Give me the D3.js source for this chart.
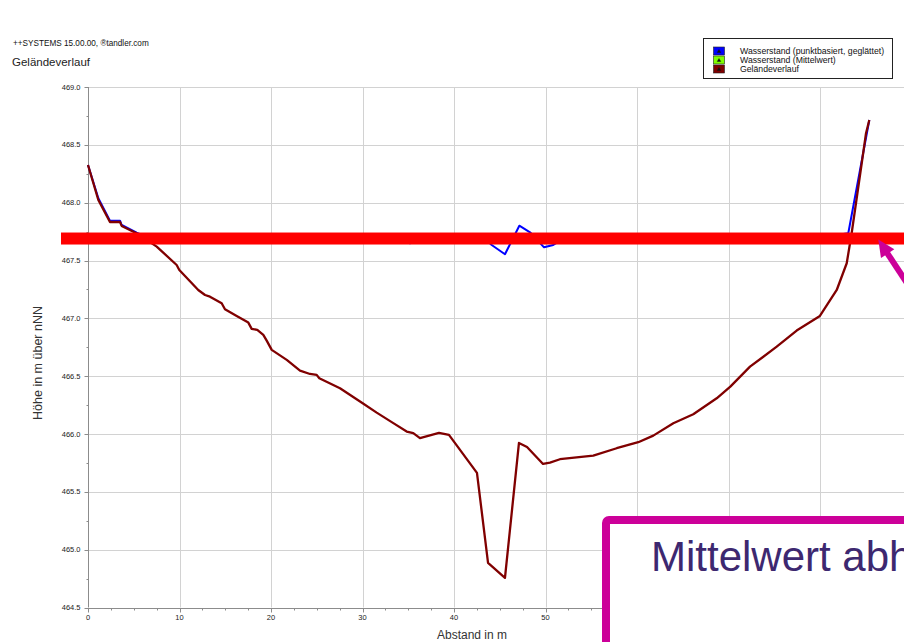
<!DOCTYPE html>
<html>
<head>
<meta charset="utf-8">
<script src="https://cdn.jsdelivr.net/npm/d3@7"></script>
<style>
  html, body { margin: 0; padding: 0; background: #fff; overflow: hidden; }
  text { font-family: "Liberation Sans", Arial, sans-serif; }
</style>
</head>
<body>
<svg id="chart" width="904" height="642"></svg>
<script>
// Geländeverlauf (terrain profile): distance in m / height in m über nNN
const terrainX = [0, 1.13, 2.40, 3.50, 3.68, 5.46, 7.51, 9.69, 9.98, 12.05, 12.79, 13.33, 14.61, 14.97,
  16.25, 17.52, 17.89, 18.50, 19.16, 19.53, 20.08, 21.72, 23.17, 24.26, 24.99, 25.28, 27.54, 30.02,
  31.55, 33.37, 34.83, 35.55, 36.28, 38.36, 39.45, 42.51, 43.72, 45.57, 47.10, 47.98, 49.73, 50.49,
  51.58, 55.22, 57.78, 60.14, 61.78, 63.97, 66.15, 68.71, 70.20, 72.35, 75.27, 77.45, 79.99, 81.83,
  82.92, 83.46, 85.03, 85.39];
const terrainY = [468.326, 468.023, 467.833, 467.833, 467.799, 467.729, 467.620, 467.461, 467.418,
  467.245, 467.202, 467.187, 467.130, 467.079, 467.021, 466.963, 466.909, 466.900, 466.857, 466.807,
  466.727, 466.641, 466.548, 466.519, 466.511, 466.482, 466.396, 466.266, 466.185, 466.094, 466.021,
  466.007, 465.964, 466.009, 465.992, 465.664, 464.886, 464.756, 465.923, 465.888, 465.741, 465.753,
  465.782, 465.813, 465.877, 465.929, 465.986, 466.093, 466.171, 466.309, 466.410, 466.582, 466.755,
  466.894, 467.021, 467.245, 467.476, 467.736, 468.600, 468.715];

// Wasserstand (punktbasiert, geglättet)
const waterX = [0, 1.13, 2.40, 3.50, 3.68, 5.32, 6.5, 20.0, 34.0, 35.19, 36.5, 42.0, 43.5, 44.12,
  45.57, 47.14, 48.31, 49.84, 50.85, 52.0, 60.0, 70.0, 80.0, 83.09, 85.39];
const waterY = [468.326, 468.038, 467.844, 467.844, 467.807, 467.741, 467.70, 467.70, 467.69, 467.649,
  467.69, 467.70, 467.68, 467.634, 467.554, 467.801, 467.744, 467.614, 467.634, 467.69, 467.70,
  467.70, 467.70, 467.736, 468.715];

// Wasserstand (Mittelwert)
const meanLevel = 467.69;
const meanX = [5.9, 83.35];

const xTicks = [0, 10, 20, 30, 40, 50, 60, 70, 80];
const yTicks = [464.5, 465.0, 465.5, 466.0, 466.5, 467.0, 467.5, 468.0, 468.5, 469.0];

const legendLabels = ["Wasserstand (punktbasiert, geglättet)", "Wasserstand (Mittelwert)", "Geländeverlauf"];
const legendColors = ["#0000ff", "#80ff00", "#800000"];

const svg = d3.select("#chart");
svg.append("rect").attr("width", 904).attr("height", 642).attr("fill", "#fff");

const x = d3.scaleLinear().domain([0, 90]).range([88, 88 + 90 * 9.15]);
const y = d3.scaleLinear().domain([464.5, 469]).range([607.5, 87]);
const plotRight = 904;

// header
svg.append("text").attr("x", 13).attr("y", 45.5).attr("font-size", 8.2).attr("fill", "#111")
  .text("++SYSTEMS 15.00.00, ®tandler.com");
svg.append("text").attr("x", 12).attr("y", 66).attr("font-size", 11.5).attr("fill", "#222")
  .text("Geländeverlauf");

// grid
const grid = svg.append("g").attr("stroke", "#d2d2d2").attr("stroke-width", 1);
grid.selectAll("line.v").data(xTicks.filter(d => d > 0)).join("line")
  .attr("x1", d => Math.round(x(d)) + 0.5).attr("x2", d => Math.round(x(d)) + 0.5)
  .attr("y1", y(469)).attr("y2", y(464.5));
grid.selectAll("line.h").data(yTicks.filter(d => d > 464.5)).join("line")
  .attr("x1", x(0)).attr("x2", plotRight)
  .attr("y1", d => Math.round(y(d)) + 0.5).attr("y2", d => Math.round(y(d)) + 0.5);

// axes
const axisColor = "#8c8c8c";
const gy = svg.append("g").attr("transform", `translate(${Math.round(x(0)) + 0.5},0)`);
gy.append("line").attr("y1", y(469)).attr("y2", y(464.5)).attr("stroke", axisColor);
gy.selectAll("line.minor").data(d3.range(0, 19).map(i => 464.5 + i * 0.25)).join("line")
  .attr("x1", d => (Math.round((d - 464.5) * 4) % 2 === 0 ? -4 : -2)).attr("x2", 0)
  .attr("y1", d => Math.round(y(d)) + 0.5).attr("y2", d => Math.round(y(d)) + 0.5)
  .attr("stroke", axisColor);
gy.selectAll("text").data(yTicks).join("text")
  .attr("x", -8).attr("y", d => y(d) + 2.5).attr("text-anchor", "end")
  .attr("font-size", 7.5).attr("fill", "#222").text(d => d3.format(".1f")(d));

const gx = svg.append("g").attr("transform", `translate(0,${Math.round(y(464.5)) + 0.5})`);
gx.append("line").attr("x1", x(0)).attr("x2", plotRight).attr("stroke", axisColor);
gx.selectAll("line.minor").data(d3.range(0, 37).map(i => i * 2.5)).join("line")
  .attr("x1", d => Math.round(x(d)) + 0.5).attr("x2", d => Math.round(x(d)) + 0.5)
  .attr("y1", 0).attr("y2", d => (d % 10 === 0 ? 4 : 2)).attr("stroke", axisColor);
gx.selectAll("text").data(xTicks).join("text")
  .attr("x", d => x(d)).attr("y", 11).attr("text-anchor", "middle")
  .attr("font-size", 7.5).attr("fill", "#222").text(d => d);

// axis titles
svg.append("text").attr("x", 472).attr("y", 639).attr("text-anchor", "middle")
  .attr("font-size", 12).attr("fill", "#333").text("Abstand in m");
svg.append("text").attr("transform", "translate(42,363) rotate(-90)").attr("text-anchor", "middle")
  .attr("font-size", 12.5).attr("fill", "#333").text("Höhe in m über nNN");

// series
const line = d3.line().x(d => x(d[0])).y(d => y(d[1]));
svg.append("path").datum(meanX.map(v => [v, meanLevel])).attr("d", line)
  .attr("fill", "none").attr("stroke", legendColors[1]).attr("stroke-width", 2);
svg.append("path").datum(d3.zip(waterX, waterY)).attr("d", line)
  .attr("fill", "none").attr("stroke", legendColors[0]).attr("stroke-width", 2)
  .attr("stroke-linejoin", "round");
svg.append("path").datum(d3.zip(terrainX, terrainY)).attr("d", line)
  .attr("fill", "none").attr("stroke", legendColors[2]).attr("stroke-width", 2.3)
  .attr("stroke-linejoin", "round");

// legend
const lg = svg.append("g");
lg.append("rect").attr("x", 703.5).attr("y", 38.5).attr("width", 189).attr("height", 40)
  .attr("fill", "#fff").attr("stroke", "#222");
legendLabels.forEach((label, i) => {
  const cy = 51 + i * 9;
  lg.append("rect").attr("x", 713.5).attr("y", cy - 4).attr("width", 11).attr("height", 8)
    .attr("fill", legendColors[i]).attr("stroke", "#222").attr("stroke-width", 0.6);
  lg.append("path").attr("d", `M${719},${cy - 1.5} L${720.8},${cy + 1.5} L${717.2},${cy + 1.5} Z`)
    .attr("fill", "#111").attr("stroke", "#111").attr("stroke-width", 0.4);
  lg.append("text").attr("x", 740).attr("y", cy + 2.8).attr("font-size", 8.7).attr("fill", "#111")
    .text(label);
});

// highlighted mean water level
const markColor = "#cc0099";
svg.append("rect").attr("x", 61).attr("y", y(meanLevel) - 6).attr("width", 904 - 61).attr("height", 12)
  .attr("fill", "#ff0000");

// arrow pointing at the mean level
const tip = [878.3, y(meanLevel) + 1];
const dir = [0.55, 0.835];
const base = [tip[0] + dir[0] * 17, tip[1] + dir[1] * 17];
svg.append("line").attr("x1", base[0] - dir[0] * 2).attr("y1", base[1] - dir[1] * 2)
  .attr("x2", base[0] + dir[0] * 60).attr("y2", base[1] + dir[1] * 60)
  .attr("stroke", markColor).attr("stroke-width", 6);
svg.append("path")
  .attr("d", `M${tip[0]},${tip[1]} L${base[0] - dir[1] * 8},${base[1] + dir[0] * 8} L${base[0] + dir[1] * 8},${base[1] - dir[0] * 8} Z`)
  .attr("fill", markColor);

// callout box
svg.append("rect").attr("x", 606).attr("y", 520).attr("width", 400).attr("height", 200).attr("rx", 3)
  .attr("fill", "#fff").attr("stroke", markColor).attr("stroke-width", 8);
svg.append("text").attr("x", 651).attr("y", 571).attr("font-size", 42).attr("fill", "#3d2870")
  .text("Mittelwert abhängig");
</script>
</body>
</html>
